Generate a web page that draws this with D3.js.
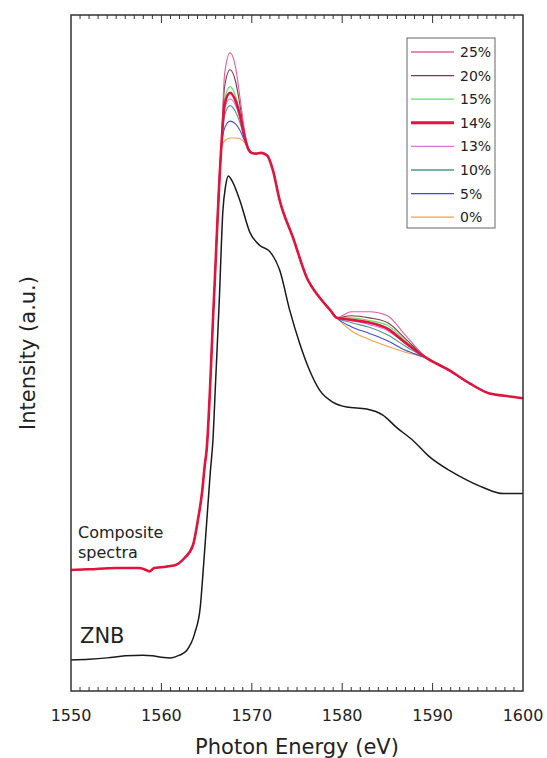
<!DOCTYPE html>
<html>
<head>
<meta charset="utf-8">
<script src="https://cdn.jsdelivr.net/npm/d3@7"></script>
<style>
  body { margin: 0; background: #fff; }
</style>
</head>
<body>
<script>
// ZNB reference spectrum (photon energy in eV, intensity in a.u.)
const znbEnergy = [1550, 1552, 1554, 1556, 1558, 1559, 1560, 1561, 1562, 1562.8, 1563.7, 1564.3,
  1564.6, 1565.0, 1565.4, 1565.7, 1566.0, 1566.4, 1566.8, 1567.1, 1567.4, 1567.8, 1568.7, 1569.8,
  1570.9, 1572.0, 1573.1, 1574.2, 1575.3, 1576.4, 1577.5, 1579.0, 1580.5, 1582.7, 1584.5, 1586.0,
  1587.8, 1589.7, 1591.9, 1593.8, 1595.6, 1597.8, 1600];
const znbIntensity = [4.6, 4.7, 4.9, 5.2, 5.3, 5.2, 5.0, 4.9, 5.3, 6.0, 8.6, 12.4,
  17.4, 24.8, 32.2, 37.1, 45.9, 57.7, 71.0, 74.7, 76.2, 75.5, 72.5, 67.8,
  65.9, 65.0, 62.2, 56.3, 51.4, 47.4, 44.5, 42.7, 42.0, 41.7, 40.8, 39.0,
  37.1, 34.6, 32.6, 31.2, 30.1, 29.2, 29.2];

// composite spectra: parts shared by all mixtures
const edgeEnergy = [1550, 1552, 1555, 1557.5, 1558.3, 1558.7, 1559.2, 1560, 1561, 1561.5, 1562.5,
  1563.5, 1564, 1564.5, 1564.8, 1565, 1565.8, 1566.6];
const edgeIntensity = [17.9, 18.0, 18.2, 18.2, 17.9, 17.7, 18.2, 18.3, 18.5, 18.6, 19.6,
  21.6, 25.0, 29.4, 33.4, 35.6, 57.7, 79.9];
const peakEnergy = [1567.0, 1567.6, 1568.2, 1568.7, 1569.2];
const midEnergy = [1569.6, 1570.0, 1570.5, 1571.0, 1571.7, 1572.3, 1573.1, 1574.6, 1576.1, 1577.5, 1578.7, 1579.4];
const midIntensity = [80.2, 79.6, 79.5, 79.6, 79.2, 77.2, 72.5, 66.9, 61.1, 58.2, 56.3, 55.2];
const bumpEnergy = [1581, 1583, 1585, 1587];
const tailEnergy = [1589.4, 1591.9, 1594.1, 1596.3, 1597.8, 1600];
const tailIntensity = [49.2, 47.4, 45.5, 44.0, 43.7, 43.3];

// per-mixture values
const labels = ['25%', '20%', '15%', '14%', '13%', '10%', '5%', '0%'];
const peakIntensity = [
  [91.4, 94.4, 92.3, 87.7, 82.9],
  [89.5, 91.9, 90.2, 86.6, 82.4],
  [87.6, 89.4, 88.0, 85.5, 82.1],
  [86.8, 88.5, 87.3, 85.1, 82.0],
  [86.1, 87.6, 86.6, 84.7, 81.8],
  [85.2, 86.6, 85.7, 84.0, 81.7],
  [83.3, 84.3, 83.9, 82.9, 81.4],
  [81.4, 81.8, 81.8, 81.7, 81.1],
];
const bumpIntensity = [
  [56.1, 56.1, 55.5, 52.6],
  [55.5, 55.2, 54.5, 52.1],
  [55.2, 54.8, 54.1, 51.8],
  [54.9, 54.5, 53.6, 51.5],
  [54.8, 54.2, 53.3, 51.4],
  [54.5, 53.8, 52.7, 51.0],
  [53.9, 52.9, 51.8, 50.4],
  [53.3, 52.0, 51.0, 50.1],
];
const colors = ['#e2609a', '#7a3a4a', '#5ee05e', '#e0143c', '#e070e8', '#4a9a8a', '#4848d8', '#f2a050'];

const width = 547;
const height = 758;
const margin = { top: 15, right: 24, bottom: 67, left: 71 };
const font = '"DejaVu Sans", Verdana, sans-serif';

const svg = d3.select('body')
  .append('svg')
  .attr('width', width)
  .attr('height', height);

const x = d3.scaleLinear().domain([1550, 1600]).range([margin.left, width - margin.right]);
const y = d3.scaleLinear().domain([0, 100]).range([height - margin.bottom, margin.top]);

// build the series
const zip = (xs, ys) => xs.map((e, i) => ({ e, v: ys[i] }));
const series = labels.map((label, i) => ({
  label,
  color: colors[i],
  points: [
    ...zip(edgeEnergy, edgeIntensity),
    ...zip(peakEnergy, peakIntensity[i]),
    ...zip(midEnergy, midIntensity),
    ...zip(bumpEnergy, bumpIntensity[i]),
    ...zip(tailEnergy, tailIntensity),
  ],
}));

const line = d3.line()
  .x((d) => x(d.e))
  .y((d) => y(d.v))
  .curve(d3.curveMonotoneX);

// thin lines first, 14% thick on top
const drawOrder = [7, 6, 5, 4, 2, 1, 0, 3];
drawOrder.forEach((i) => {
  const s = series[i];
  svg.append('path')
    .datum(s.points)
    .attr('d', line)
    .attr('fill', 'none')
    .attr('stroke', s.color)
    .attr('stroke-width', s.label === '14%' ? 2.6 : 1.1)
    .attr('stroke-linejoin', 'round');
});

svg.append('path')
  .datum(zip(znbEnergy, znbIntensity))
  .attr('d', line)
  .attr('fill', 'none')
  .attr('stroke', '#1a1a1a')
  .attr('stroke-width', 1.5);

// frame
const x0 = margin.left, x1 = width - margin.right;
const y0 = margin.top, y1 = height - margin.bottom;
svg.append('rect')
  .attr('x', x0).attr('y', y0)
  .attr('width', x1 - x0).attr('height', y1 - y0)
  .attr('fill', 'none')
  .attr('stroke', '#333')
  .attr('stroke-width', 1.5);

// inward ticks on top and bottom
const minorTicks = d3.range(1551, 1600, 1);
const tickLen = (d) => (d % 10 === 0 ? 8 : 4);
['bottom', 'top'].forEach((side) => {
  svg.append('g')
    .selectAll('line')
    .data(minorTicks)
    .join('line')
    .attr('x1', (d) => x(d))
    .attr('x2', (d) => x(d))
    .attr('y1', side === 'bottom' ? y1 : y0)
    .attr('y2', (d) => (side === 'bottom' ? y1 - tickLen(d) : y0 + tickLen(d)))
    .attr('stroke', '#333')
    .attr('stroke-width', 1);
});

// tick labels
svg.append('g')
  .selectAll('text')
  .data(x.ticks(5))
  .join('text')
  .attr('x', (d) => x(d))
  .attr('y', y1 + 30)
  .attr('text-anchor', 'middle')
  .style('font-family', font)
  .style('font-size', '16px')
  .attr('fill', '#222')
  .text((d) => d);

// axis titles
svg.append('text')
  .attr('x', (x0 + x1) / 2)
  .attr('y', height - 4)
  .attr('text-anchor', 'middle')
  .style('font-family', font)
  .style('font-size', '21px')
  .attr('fill', '#222')
  .text('Photon Energy (eV)');

svg.append('text')
  .attr('transform', `translate(35, ${(y0 + y1) / 2}) rotate(-90)`)
  .attr('text-anchor', 'middle')
  .style('font-family', font)
  .style('font-size', '21px')
  .attr('fill', '#222')
  .text('Intensity (a.u.)');

// curve labels
svg.append('text')
  .attr('x', 78).attr('y', 538)
  .style('font-family', font)
  .style('font-size', '16px')
  .attr('fill', '#222')
  .text('Composite');
svg.append('text')
  .attr('x', 78).attr('y', 558)
  .style('font-family', font)
  .style('font-size', '16px')
  .attr('fill', '#222')
  .text('spectra');
svg.append('text')
  .attr('x', 80).attr('y', 643)
  .style('font-family', font)
  .style('font-size', '21px')
  .attr('fill', '#222')
  .text('ZNB');

// legend
const legend = svg.append('g').attr('transform', 'translate(407, 38)');
legend.append('rect')
  .attr('width', 88).attr('height', 190)
  .attr('fill', '#fff')
  .attr('stroke', '#666')
  .attr('stroke-width', 1);
series.forEach((s, i) => {
  const ry = 14 + i * 23.6;
  legend.append('line')
    .attr('x1', 4).attr('x2', 47)
    .attr('y1', ry).attr('y2', ry)
    .attr('stroke', s.color)
    .attr('stroke-width', s.label === '14%' ? 3 : 1.3);
  legend.append('text')
    .attr('x', 53).attr('y', ry)
    .attr('dy', '0.36em')
    .style('font-family', font)
    .style('font-size', '14px')
    .attr('fill', '#222')
    .text(s.label);
});
</script>
</body>
</html>
